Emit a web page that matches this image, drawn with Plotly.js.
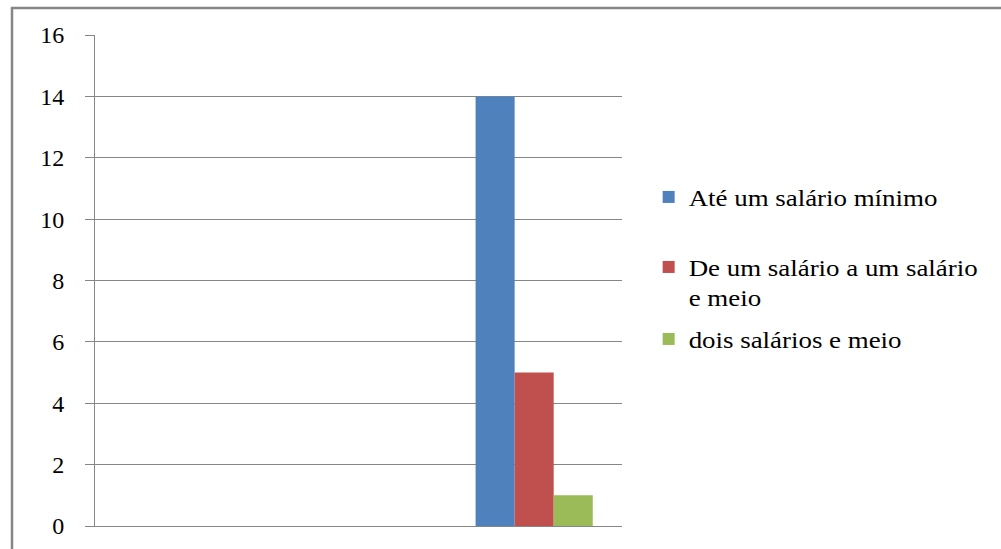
<!DOCTYPE html>
<html>
<head>
<meta charset="utf-8">
<script src="https://cdn.plot.ly/plotly-3.0.1.min.js"></script>
<style>
html,body{margin:0;padding:0;background:#fff;}
#chart{width:1001px;height:549px;}
</style>
</head>
<body>
<div id="chart"></div>
<script>
const categories = ["cat1", "cat2", "cat3"];
const seriesNames = ["Até um salário mínimo", "De um salário a um salário<br>e meio", "dois salários e meio"];
const seriesA = [null, null, 14];
const seriesB = [null, null, 5];
const seriesC = [null, null, 1];
const yTicks = [0, 2, 4, 6, 8, 10, 12, 14, 16];

const colors = ["#4F81BD", "#C0504D", "#9BBB59"];
const legendIds = ["legend", "legend2", "legend3"];
const allValues = [seriesA, seriesB, seriesC];

const traces = allValues.map((vals, i) => ({
  type: "bar",
  name: seriesNames[i],
  x: categories,
  y: vals,
  marker: {color: colors[i], line: {width: 0}},
  legend: legendIds[i],
  hoverinfo: "none"
}));

const SERIF = "Liberation Serif";
function mkLegend(y, valign) {
  return {
    xref: "container", yref: "container",
    x: 0.648, y: y, xanchor: "left", yanchor: "middle",
    font: {family: SERIF, size: 23, color: "#000"}, bgcolor: "rgba(0,0,0,0)", borderwidth: 0,
    valign: valign || "middle", itemwidth: 30
  };
}

const layout = {
  width: 1001, height: 549,
  margin: {l: 95, r: 379, t: 35, b: 23},
  paper_bgcolor: "#fff", plot_bgcolor: "#fff",
  font: {family: SERIF, color: "#000"},
  barmode: "group",
  bargap: 0.333,
  bargroupgap: 0,
  showlegend: true,
  legend: mkLegend(1 - 197/549, "middle"),
  legend2: mkLegend(1 - 282/549, "top"),
  legend3: mkLegend(1 - 339/549, "middle"),
  xaxis: {
    type: "category",
    categoryarray: categories,
    showticklabels: false,
    ticks: "",
    showgrid: false,
    showline: true, linecolor: "#868686", linewidth: 1,
    zeroline: false, fixedrange: true
  },
  yaxis: {
    range: [0, 16],
    tickvals: yTicks,
    ticktext: yTicks.map(String),
    showgrid: true, gridcolor: "#868686", gridwidth: 1,
    showline: true, linecolor: "#868686", linewidth: 1,
    ticks: "outside", ticklen: 9, tickcolor: "#868686", tickwidth: 1,
    ticklabelstandoff: 16,
    tickfont: {family: SERIF, size: 24, color: "#000"},
    zeroline: false, fixedrange: true
  },
  shapes: [{
    type: "rect", xref: "paper", yref: "paper",
    x0: (12 - 95) / 527, x1: (1020 - 95) / 527,
    y0: (526 - 570) / 491, y1: (526 - 8) / 491,
    line: {color: "#868686", width: 2.5},
    fillcolor: "rgba(0,0,0,0)", layer: "above"
  }]
};

// the reference renders its legend text slightly stretched horizontally
function stretchLegendText(gd) {
  gd.querySelectorAll("g.scrollbox").forEach(function (g) {
    g.removeAttribute("clip-path");
  });
  gd.querySelectorAll("text").forEach(function (t) {
    if (t.closest(".ytick") || t.closest(".xtick")) return;
    var tr = t.getAttribute("transform");
    if (tr && !t.hasAttribute("data-stretch")) return;
    var x = parseFloat(t.getAttribute("x"));
    if (isNaN(x)) x = 40;
    t.setAttribute("data-stretch", "1");
    t.setAttribute("transform", "translate(" + x + ",0) scale(1.17,1) translate(" + (-x) + ",0)");
  });
}

const gdEl = document.getElementById("chart");
Plotly.newPlot(gdEl, traces, layout, {displayModeBar: false, staticPlot: true}).then(function (gd) {
  stretchLegendText(gd);
  setTimeout(function () { stretchLegendText(gd); }, 50);
  setTimeout(function () { stretchLegendText(gd); }, 300);
});
</script>
</body>
</html>
